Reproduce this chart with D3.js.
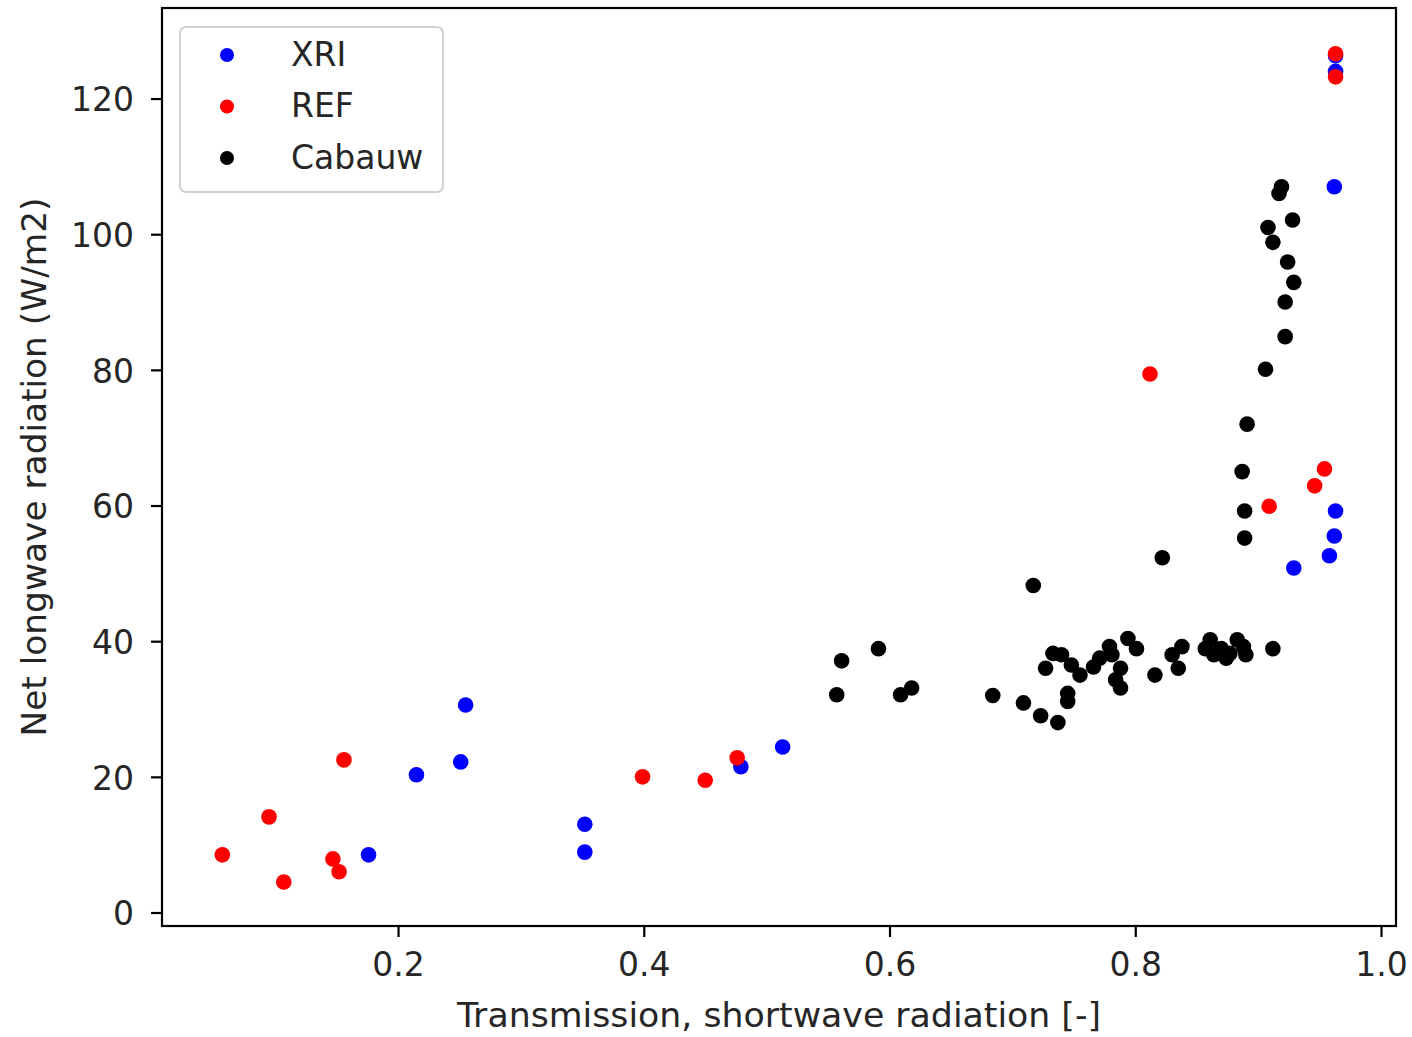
<!DOCTYPE html>
<html>
<head>
<meta charset="utf-8">
<script src="https://cdn.jsdelivr.net/npm/d3@7"></script>
<style>
  body { margin: 0; background: #fff; }
  text { font-family: "DejaVu Sans", sans-serif; fill: #262626; }
</style>
</head>
<body>
<script>
// values
var xriX = [0.963, 0.963, 0.962, 0.963, 0.962, 0.958, 0.929, 0.513, 0.479, 0.255, 0.251, 0.215, 0.352, 0.352, 0.176];
var xriY = [126.3, 124.0, 107.0, 59.2, 55.5, 52.6, 50.8, 24.4, 21.5, 30.6, 22.2, 20.3, 13.0, 8.9, 8.5];

var refX = [0.963, 0.963, 0.812, 0.954, 0.946, 0.909, 0.476, 0.450, 0.399, 0.156, 0.095, 0.057, 0.147, 0.152, 0.107];
var refY = [126.6, 123.2, 79.4, 65.4, 62.9, 59.9, 22.8, 19.5, 20.0, 22.5, 14.1, 8.5, 7.9, 6.0, 4.5];

var cabX = [0.919, 0.917, 0.928, 0.908, 0.912, 0.924, 0.929, 0.922, 0.922, 0.906, 0.891, 0.887, 0.889, 0.889,
            0.822, 0.717, 0.561, 0.591, 0.557, 0.609, 0.618, 0.684, 0.709, 0.723, 0.727, 0.737, 0.745, 0.745,
            0.733, 0.740, 0.748, 0.755, 0.766, 0.771, 0.779, 0.781, 0.788, 0.784, 0.788, 0.794, 0.801, 0.816,
            0.830, 0.838, 0.835, 0.861, 0.857, 0.864, 0.870, 0.877, 0.883, 0.888, 0.890, 0.874, 0.912];
var cabY = [107.0, 106.0, 102.1, 101.0, 98.8, 95.9, 92.9, 90.0, 84.9, 80.1, 72.0, 65.0, 59.2, 55.2,
            52.3, 48.2, 37.1, 38.9, 32.1, 32.1, 33.1, 32.0, 30.9, 29.0, 36.0, 28.0, 32.3, 31.1,
            38.2, 38.0, 36.5, 35.0, 36.2, 37.5, 39.2, 38.0, 36.0, 34.3, 33.1, 40.4, 38.9, 35.0,
            38.0, 39.2, 36.0, 40.2, 38.9, 38.0, 38.9, 38.2, 40.2, 39.2, 38.0, 37.5, 38.9];

var seriesNames = ["XRI", "REF", "Cabauw"];
var seriesColors = ["#0000ff", "#ff0000", "#000000"];
var xTicks = [0.2, 0.4, 0.6, 0.8, 1.0];
var yTicks = [0, 20, 40, 60, 80, 100, 120];

function scatterChart() {
    var width = 1412, height = 1037;
    var pLeft = 162, pRight = 1396, pTop = 8, pBottom = 926;
    var fs = "33px";

    var svg = d3.select("body").append("svg")
        .attr("width", width)
        .attr("height", height);

    var x = d3.scaleLinear().domain([0.0079, 1.0122]).range([pLeft, pRight]);
    var y = d3.scaleLinear().domain([-1.99, 133.35]).range([pBottom, pTop]);

    // points, drawn in matplotlib order
    var all = [[xriX, xriY], [refX, refY], [cabX, cabY]];
    all.forEach(function (s, i) {
        var pts = s[0].map(function (v, j) { return [v, s[1][j]]; });
        svg.append("g").selectAll("circle")
            .data(pts)
            .enter()
            .append("circle")
            .attr("cx", function (d) { return x(d[0]); })
            .attr("cy", function (d) { return y(d[1]); })
            .attr("r", 7.8)
            .attr("fill", seriesColors[i]);
    });

    // axes
    var xAxis = svg.append("g")
        .attr("transform", "translate(0," + pBottom + ")")
        .call(d3.axisBottom(x).tickValues(xTicks).tickSize(11).tickPadding(15.5).tickFormat(d3.format(".1f")));
    var yAxis = svg.append("g")
        .attr("transform", "translate(" + pLeft + ",0)")
        .call(d3.axisLeft(y).tickValues(yTicks).tickSize(11).tickPadding(17).tickFormat(d3.format("d")));
    [xAxis, yAxis].forEach(function (a) {
        a.select(".domain").remove();
        a.selectAll("line").attr("stroke", "#000").attr("stroke-width", 2.2);
        a.selectAll("text").attr("font-size", fs).attr("fill", "#262626")
            .attr("font-family", "DejaVu Sans, sans-serif");
    });
    yAxis.selectAll("text").attr("dy", "0.37em");

    // frame
    svg.append("rect")
        .attr("x", pLeft).attr("y", pTop)
        .attr("width", pRight - pLeft).attr("height", pBottom - pTop)
        .attr("fill", "none").attr("stroke", "#000").attr("stroke-width", 2.2);

    svg.append("text")
        .attr("x", (pLeft + pRight) / 2).attr("y", 1027)
        .attr("text-anchor", "middle").attr("font-size", fs)
        .attr("textLength", 644).attr("lengthAdjust", "spacingAndGlyphs")
        .text("Transmission, shortwave radiation [-]");
    svg.append("text")
        .attr("transform", "translate(46,467)rotate(-90)")
        .attr("text-anchor", "middle").attr("font-size", fs)
        .attr("textLength", 539).attr("lengthAdjust", "spacingAndGlyphs")
        .text("Net longwave radiation (W/m2)");

    // legend
    var lg = svg.append("g");
    lg.append("rect")
        .attr("x", 180).attr("y", 27).attr("width", 263).attr("height", 165)
        .attr("rx", 6).attr("fill", "#fff").attr("fill-opacity", 0.8)
        .attr("stroke", "#d0d0d0").attr("stroke-width", 2);
    seriesNames.forEach(function (n, i) {
        var cy = 55 + i * 51.5;
        lg.append("circle").attr("cx", 227).attr("cy", cy).attr("r", 7).attr("fill", seriesColors[i]);
        lg.append("text").attr("x", 291).attr("y", cy + 10.5).attr("font-size", fs).text(n);
    });
}

scatterChart();
</script>
</body>
</html>
